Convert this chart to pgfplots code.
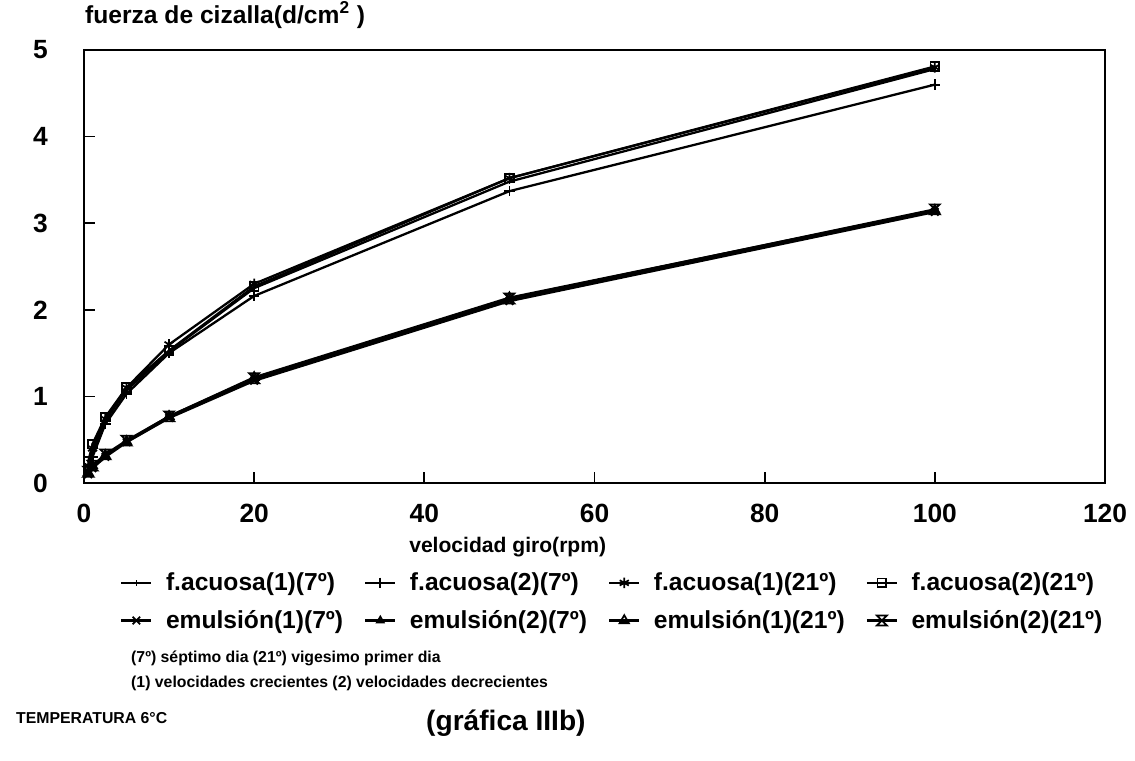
\documentclass[border=0pt]{standalone}
\usepackage{pgfplots}
\pgfplotsset{compat=1.18}
\usepackage{fontspec}
\setmainfont{Liberation Sans}

% x with bars on top and bottom
\pgfdeclareplotmark{hourglass}{%
  \pgfpathmoveto{\pgfqpoint{-\pgfplotmarksize}{\pgfplotmarksize}}%
  \pgfpathlineto{\pgfqpoint{\pgfplotmarksize}{\pgfplotmarksize}}%
  \pgfpathlineto{\pgfqpoint{-\pgfplotmarksize}{-\pgfplotmarksize}}%
  \pgfpathlineto{\pgfqpoint{\pgfplotmarksize}{-\pgfplotmarksize}}%
  \pgfpathclose
  \pgfusepathqstroke}

\begin{document}
\begin{tikzpicture}
\path[use as bounding box] (-1.68,-5.56) rectangle (21.02,9.66);
\begin{axis}[
    at={(0,0)}, anchor=south west,
    scale only axis,
    width=20.42cm, height=8.66cm,
    xmin=0, xmax=120, ymin=0, ymax=5,
    enlargelimits=false,
    xtick={0,20,...,120}, ytick={0,1,...,5},
    tick align=inside,
    xtick pos=left, ytick pos=left,
    major tick length=0.22cm,
    axis line style={line width=1.3pt},
    tick style={line width=1pt, black},
    /pgf/number format/assume math mode=true,
    ticklabel style={font=\bfseries\fontsize{15}{17}\selectfont},
    yticklabel style={xshift=-0.6cm},
    xticklabel style={yshift=-0.3cm},
    xlabel={velocidad giro(rpm)},
    xlabel style={font=\bfseries\fontsize{12}{14}\selectfont,
        at={(axis description cs:0.415,0)}, anchor=center, yshift=-1.28cm},
    ylabel={fuerza de cizalla(d/cm\textsuperscript{2} )},
    ylabel style={font=\bfseries\fontsize{14}{16}\selectfont, rotate=-90,
        at={(axis description cs:0,1)}, anchor=west, xshift=-0.1cm, yshift=0.7cm},
    every axis plot/.append style={black, line width=1.3pt, mark options={solid, line width=1pt, fill=white}},
    legend columns=4,
    legend cell align=left,
    legend style={
        at={(0.03,-0.19)}, anchor=north west,
        draw=none, fill=none,
        font=\bfseries\fontsize{14}{16}\selectfont,
        row sep=0.2cm,
        /tikz/every odd column/.append style={column sep=0.2cm},
        /tikz/every even column/.append style={column sep=0.35cm},
    },
]
% f.acuosa(1)(7º)
\addplot[mark=|, mark size=1.5pt] coordinates {
    (0.5,0.18) (1,0.35) (2.5,0.72) (5,1.07) (10,1.52) (20,2.25) (50,3.48) (100,4.78)
};
% f.acuosa(2)(7º)
\addplot[mark=+, mark size=3pt] coordinates {
    (0.5,0.15) (1,0.30) (2.5,0.68) (5,1.03) (10,1.50) (20,2.16) (50,3.37) (100,4.60)
};
% f.acuosa(1)(21º)
\addplot[mark=asterisk, mark size=3pt] coordinates {
    (0.5,0.20) (1,0.40) (2.5,0.74) (5,1.10) (10,1.60) (20,2.30) (50,3.52) (100,4.80)
};
% f.acuosa(2)(21º)
\addplot[mark=square, mark size=2.5pt] coordinates {
    (0.5,0.25) (1,0.45) (2.5,0.76) (5,1.10) (10,1.53) (20,2.27) (50,3.52) (100,4.81)
};
% emulsión(1)(7º)
\addplot[mark=x, mark size=3pt] coordinates {
    (0.5,0.10) (1,0.17) (2.5,0.30) (5,0.47) (10,0.75) (20,1.18) (50,2.10) (100,3.13)
};
% emulsión(2)(7º)
\addplot[mark=triangle, mark size=2.2pt] coordinates {
    (0.5,0.12) (1,0.19) (2.5,0.32) (5,0.48) (10,0.76) (20,1.20) (50,2.12) (100,3.14)
};
% emulsión(1)(21º)
\addplot[mark=triangle, mark size=3pt] coordinates {
    (0.5,0.12) (1,0.20) (2.5,0.32) (5,0.48) (10,0.77) (20,1.22) (50,2.14) (100,3.15)
};
% emulsión(2)(21º)
\addplot[mark=hourglass, mark size=2.8pt] coordinates {
    (0.5,0.13) (1,0.20) (2.5,0.33) (5,0.49) (10,0.77) (20,1.21) (50,2.13) (100,3.16)
};
\legend{f.acuosa(1)(7º), f.acuosa(2)(7º), f.acuosa(1)(21º), f.acuosa(2)(21º),
        emulsión(1)(7º), emulsión(2)(7º), emulsión(1)(21º), emulsión(2)(21º)}
\end{axis}
\node[anchor=west, font=\bfseries\fontsize{9}{11}\selectfont] at (0.82,-3.5)
    {(7º) séptimo dia (21º) vigesimo primer dia};
\node[anchor=west, font=\bfseries\fontsize{9}{11}\selectfont] at (0.82,-4.0)
    {(1) velocidades crecientes (2) velocidades decrecientes};
\node[anchor=west, font=\bfseries\fontsize{9}{11}\selectfont] at (-1.48,-4.7)
    {TEMPERATURA 6°C};
\node[anchor=west, font=\bfseries\fontsize{16}{18}\selectfont] at (6.72,-4.8)
    {(gráfica IIIb)};
\end{tikzpicture}
\end{document}
